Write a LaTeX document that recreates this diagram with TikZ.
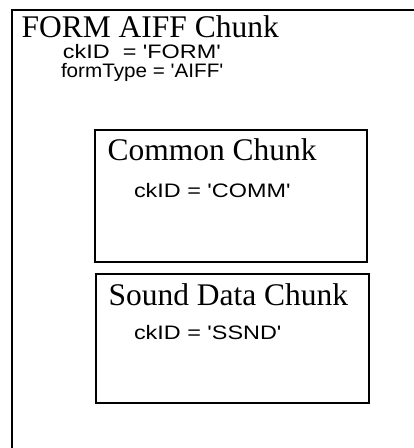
\documentclass[tikz,border=0pt]{standalone}
\usepackage{fontspec}
\setmainfont{Liberation Serif}
\newfontfamily\chunksans[FakeStretch=1.2]{Liberation Sans}
\newfontfamily\chunksansnarrow[FakeStretch=1.06]{Liberation Sans}
\usetikzlibrary{positioning}
\tikzstyle{every node}=[inner sep=0pt,anchor=base west]
\tikzstyle{every path}=[line width=2pt,line cap=butt,line join=miter]
\tikzstyle{chunktitle}=[font=\fontsize{31.5}{31.5}\selectfont]
\tikzstyle{chunkfield}=[font=\chunksans\fontsize{19.5}{19.5}\selectfont]
\tikzstyle{chunkfieldnarrow}=[font=\chunksansnarrow\fontsize{19.5}{19.5}\selectfont]

\begin{document}
\begin{tikzpicture}[x=1pt,y=-1pt]
  \useasboundingbox (0,0) rectangle (414,448);
  % outer FORM chunk, runs off the page on the right and bottom
  \draw (12,448)--(12,10)--(414,10);
  \node[chunktitle] (formtitle) at (20.5,37.5) {FORM AIFF Chunk};
  \node[chunkfield] (formid) at (62,58.5) {ckID\ \ = 'FORM'};
  \node[chunkfieldnarrow] (formtype) at (60,77) {formType = 'AIFF'};
  % common chunk
  \draw (95,130) rectangle (367,262);
  \node[chunktitle] (commtitle) at (106.5,160) {Common Chunk};
  \node[chunkfield] (commid) at (133,197) {ckID = 'COMM'};
  % sound data chunk
  \draw (96,274) rectangle (369,403);
  \node[chunktitle] (ssndtitle) at (107.5,305) {Sound Data Chunk};
  \node[chunkfield] (ssndid) at (133,339) {ckID = 'SSND'};
\end{tikzpicture}
\end{document}
